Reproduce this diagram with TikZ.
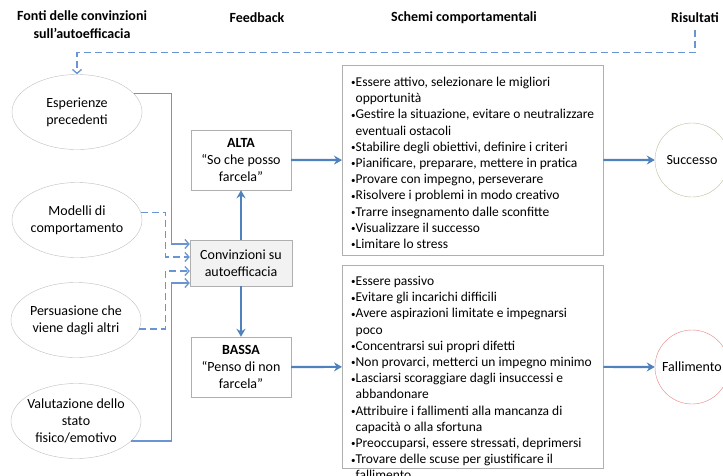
\documentclass[tikz,border=0pt]{standalone}
\usepackage{fontspec}
\setmainfont{Carlito}
\usepackage{tikz}
\usetikzlibrary{
  arrows.meta, shapes.geometric
}
\usepackage{xcolor}
\definecolor{flowblue}{RGB}{79, 129, 189}
\definecolor{linkblue}{RGB}{105, 150, 210}
\definecolor{boxgray}{RGB}{175, 175, 175}
\definecolor{ellgray}{RGB}{190, 190, 190}
\definecolor{convfill}{RGB}{242, 242, 242}
\definecolor{succline}{RGB}{190, 190, 160}
\definecolor{failline}{RGB}{235, 130, 130}
\newcommand{\itm}{\makebox[4.5pt][l]{\raisebox{0.6pt}{\fontsize{9}{9}\selectfont\textbullet}}}
\newcommand{\cnt}{\hspace*{4.5pt}}

\begin{document}
\begin{tikzpicture}[x=1pt, y=-1pt,
    every node/.style={font=\fontsize{14}{17}\selectfont},
    head/.style={font=\fontsize{14}{18}\selectfont\bfseries, align=center},
    src/.style={ellipse, draw=ellgray, minimum width=130pt, minimum height=75pt,
                inner xsep=-15pt, inner ysep=-10pt, align=center},
    lvl/.style={draw=boxgray, minimum width=100pt, minimum height=60pt,
                inner sep=2pt, align=center},
    lst/.style={draw=boxgray, anchor=north west, inner xsep=9pt, inner ysep=0pt,
                font=\fontsize{13.5}{16.2}\selectfont},
    res/.style={circle, minimum size=74pt, inner sep=-12pt},
    conn/.style={color=linkblue, line width=1.3pt, -{Straight Barb[length=4pt,width=9pt]}},
    fb/.style={conn, dash pattern=on 7pt off 4pt},
    flow/.style={color=flowblue, line width=2.2pt, -{Stealth[length=8pt,width=9pt]}}
  ]
  \useasboundingbox (0,0) rectangle (723,475);

  % column titles
  \node[head] (hsrc) at (82,25) {Fonti delle convinzioni\\sull’autoefficacia};
  \node[head] (hfb) at (257,18) {Feedback};
  \node[head] (hbeh) at (464,18) {Schemi comportamentali};
  \node[head] (ris) at (695,18) {Risultati};

  % sources
  \node[src] (E1) at (77,112) {Esperienze\\precedenti};
  \node[src] (E2) at (77,220) {Modelli di\\comportamento};
  \node[src] (E3) at (76,320) {Persuasione che\\viene dagli altri};
  \node[src] (E4) at (76,421) {Valutazione dello\\stato\\fisico/emotivo};

  % beliefs
  \node[lvl, fill=convfill, minimum width=102pt, minimum height=46pt] (conv) at (241,263)
    {Convinzioni su\\autoefficacia};
  \node[lvl] (alta) at (241,160) {\textbf{ALTA}\\“So che posso\\farcela”};
  \node[lvl] (bassa) at (241,367) {\textbf{BASSA}\\“Penso di non\\farcela”};

  % behaviour lists
  \node[lst] (pos) at (342,65) {\parbox[c][190pt][t]{243pt}{\vspace*{12pt}%
    \itm Essere attivo, selezionare le migliori\\
    \cnt opportunità\\
    \itm Gestire la situazione, evitare o neutralizzare\\
    \cnt eventuali ostacoli\\
    \itm Stabilire degli obiettivi, definire i criteri\\
    \itm Pianificare, preparare, mettere in pratica\\
    \itm Provare con impegno, perseverare\\
    \itm Risolvere i problemi in modo creativo\\
    \itm Trarre insegnamento dalle sconfitte\\
    \itm Visualizzare il successo\\
    \itm Limitare lo stress}};
  \node[lst] (neg) at (342,265) {\parbox[c][203pt][t]{243pt}{\vspace*{11pt}%
    \itm Essere passivo\\
    \itm Evitare gli incarichi difficili\\
    \itm Avere aspirazioni limitate e impegnarsi\\
    \cnt poco\\
    \itm Concentrarsi sui propri difetti\\
    \itm Non provarci, metterci un impegno minimo\\
    \itm Lasciarsi scoraggiare dagli insuccessi e\\
    \cnt abbandonare\\
    \itm Attribuire i fallimenti alla mancanza di\\
    \cnt capacità o alla sfortuna\\
    \itm Preoccuparsi, essere stressati, deprimersi\\
    \itm Trovare delle scuse per giustificare il\\
    \cnt fallimento}};

  % results
  \node[res, draw=succline] (succ) at (692,160) {Successo};
  \node[res, draw=failline] (fail) at (692,367) {Fallimento};

  % sources -> beliefs
  \draw[conn] (E1.18) -| ([xshift=-18pt,yshift=19pt]conv.west) -- ([yshift=19pt]conv.west);
  \draw[fb] (E2.7) -| ([xshift=-24pt,yshift=6pt]conv.west) -- ([yshift=6pt]conv.west);
  \draw[fb] (E3.-8) -| ([xshift=-24pt,yshift=-8pt]conv.west) -- ([yshift=-8pt]conv.west);
  \draw[conn] (E4.-20) -| ([xshift=-18pt,yshift=-20pt]conv.west) -- ([yshift=-20pt]conv.west);

  % main flow
  \draw[flow] (conv) -- (alta);
  \draw[flow] (conv) -- (bassa);
  \draw[flow] (alta) -- (pos);
  \draw[flow] (bassa) -- (neg);
  \draw[flow] (pos) -- (succ);
  \draw[flow] (neg) -- (fail);

  % feedback loop
  \draw[fb] ([yshift=-3pt]ris.south) |- ([yshift=22pt]E1.north) -- (E1.north);
\end{tikzpicture}
\end{document}
